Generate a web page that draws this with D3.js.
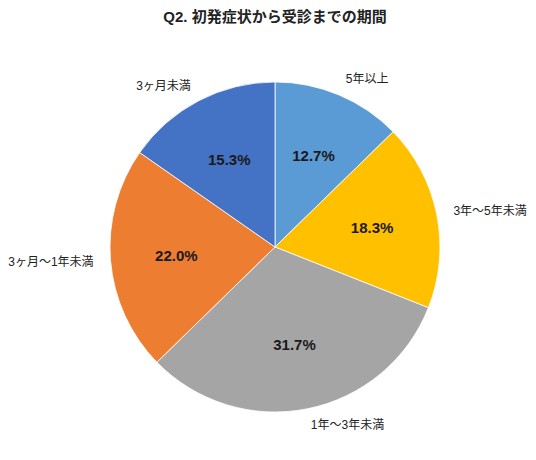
<!DOCTYPE html>
<html>
<head>
<meta charset="utf-8">
<script src="https://cdn.jsdelivr.net/npm/d3@7"></script>
<style>
  body { margin: 0; background: #fff; }
  text { font-family: "Liberation Sans", "Noto Sans CJK JP", sans-serif; }
</style>
</head>
<body>
<div id="chart"></div>
<script>
// data, clockwise from 12 o'clock
var categories = ["5年以上", "3年〜5年未満", "1年〜3年未満", "3ヶ月〜1年未満", "3ヶ月未満"];
var values = [12.7, 18.3, 31.7, 22.0, 15.3];
var colors = ["#5B9BD5", "#FFC000", "#A5A5A5", "#ED7D31", "#4472C4"];
var title = "Q2. 初発症状から受診までの期間";

var width = 536, height = 460;
var cx = 275, cy = 247, radius = 165;

var svg = d3.select("#chart").append("svg")
    .attr("width", width)
    .attr("height", height);

svg.append("text")
    .attr("x", cx)
    .attr("y", 16)
    .attr("text-anchor", "middle")
    .attr("dominant-baseline", "central")
    .attr("font-size", 15)
    .attr("font-weight", "bold")
    .attr("fill", "#222")
    .text(title);

var data = categories.map(function(c, i) { return { name: c, value: values[i], color: colors[i] }; });

var pie = d3.pie()
    .sort(null)
    .value(function(d) { return d.value; });

var arc = d3.arc().innerRadius(0).outerRadius(radius);
var inner = d3.arc().innerRadius(radius * 0.6).outerRadius(radius * 0.6);
var outer = d3.arc().innerRadius(182).outerRadius(182);

var g = svg.append("g").attr("transform", "translate(" + cx + "," + cy + ")");
var arcs = pie(data);

g.selectAll("path.slice")
    .data(arcs)
    .enter().append("path")
    .attr("class", "slice")
    .attr("d", arc)
    .attr("fill", function(d) { return d.data.color; })
    .attr("stroke", "#fff")
    .attr("stroke-width", 0.8);

g.selectAll("text.pct")
    .data(arcs)
    .enter().append("text")
    .attr("class", "pct")
    .attr("transform", function(d) { return "translate(" + inner.centroid(d) + ")"; })
    .attr("text-anchor", "middle")
    .attr("dominant-baseline", "central")
    .attr("font-size", 15)
    .attr("font-weight", "bold")
    .attr("fill", "#1a1a1a")
    .text(function(d) { return d.data.value.toFixed(1) + "%"; });

g.selectAll("text.cat")
    .data(arcs)
    .enter().append("text")
    .attr("class", "cat")
    .attr("transform", function(d) { return "translate(" + outer.centroid(d) + ")"; })
    .attr("text-anchor", function(d) {
        var a = (d.startAngle + d.endAngle) / 2;
        return Math.sin(a) >= 0 ? "start" : "end";
    })
    .attr("dominant-baseline", "central")
    .attr("font-size", 12)
    .attr("fill", "#222")
    .text(function(d) { return d.data.name; });
</script>
</body>
</html>
